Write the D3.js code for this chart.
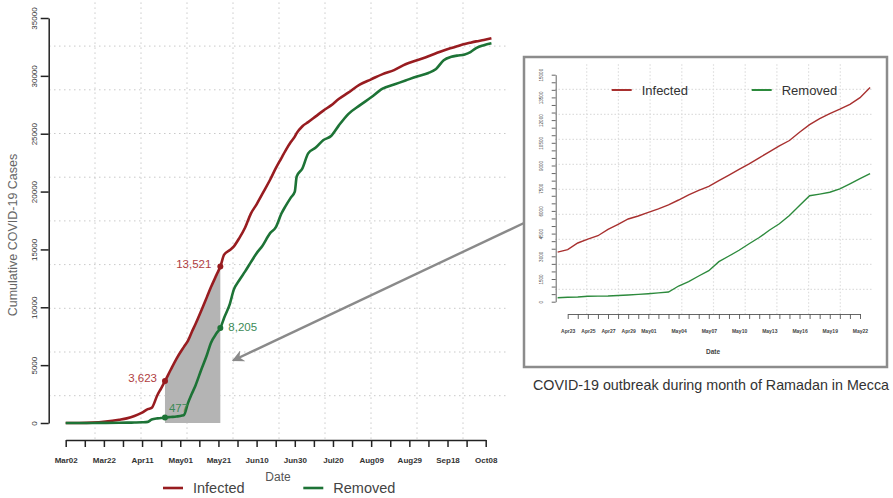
<!DOCTYPE html>
<html>
<head>
<meta charset="utf-8">
<script src="https://cdn.jsdelivr.net/npm/d3@7"></script>
<style>
  body { margin: 0; background: #fff; }
  svg { display: block; font-family: "Liberation Sans", Arial, sans-serif; }
</style>
</head>
<body>
<div id="chart"></div>
<script>
// Main chart: cumulative cases
const mainDates = ["2020-03-02","2020-03-09","2020-03-16","2020-03-23","2020-03-30","2020-04-03","2020-04-07","2020-04-11",
  "2020-04-14","2020-04-16","2020-04-19","2020-04-21","2020-04-23","2020-04-26","2020-04-29","2020-05-02","2020-05-03",
  "2020-05-05","2020-05-07","2020-05-09","2020-05-12","2020-05-15","2020-05-17","2020-05-20","2020-05-22","2020-05-24",
  "2020-05-27","2020-05-29","2020-06-01","2020-06-04","2020-06-07","2020-06-10","2020-06-13","2020-06-17","2020-06-20",
  "2020-06-23","2020-06-25","2020-06-28","2020-06-30","2020-07-01","2020-07-04","2020-07-07","2020-07-11","2020-07-15",
  "2020-07-19","2020-07-23","2020-07-28","2020-08-03","2020-08-09","2020-08-15","2020-08-21","2020-08-27","2020-09-02",
  "2020-09-08","2020-09-12","2020-09-16","2020-09-20","2020-09-23","2020-09-27","2020-09-30","2020-10-03","2020-10-07",
  "2020-10-11"];
const infected = [0,5,30,120,280,400,600,900,1200,1300,2400,3000,3623,4600,5550,6350,6600,7100,7850,8550,9700,10900,
  11700,12800,13521,14550,14950,15250,16000,16900,18100,18900,19800,21000,22000,22900,23500,24300,24750,25050,25650,
  26000,26500,27000,27450,28000,28550,29250,29700,30150,30500,31000,31350,31700,31950,32200,32400,32550,32750,32870,
  32980,33100,33250];
const removed = [0,0,5,10,20,30,40,60,100,300,400,430,477,520,560,640,700,1700,2500,3250,4600,5900,6900,7750,8205,
  9100,10300,11500,12360,13100,13900,14670,15300,16390,16900,18100,18700,19500,20000,21300,22000,23300,23800,24450,
  24800,25700,26700,27450,28150,28900,29250,29600,29950,30250,30600,31350,31650,31750,31850,32050,32400,32650,32810];

// Ramadan window and the marked values
const ramadan = ["2020-04-23", "2020-05-22"];
const markInfected = [3623, 13521];
const markRemoved = [477, 8205];

// Axis ticks
const yTicks = [0, 5000, 10000, 15000, 20000, 25000, 30000, 35000];
const xTickStart = "2020-03-02", xTickEnd = "2020-10-08";

// Inset chart (Ramadan zoom)
const insetDates = ["2020-04-22","2020-04-23","2020-04-24","2020-04-25","2020-04-26","2020-04-27","2020-04-28","2020-04-29",
  "2020-04-30","2020-05-01","2020-05-02","2020-05-03","2020-05-04","2020-05-05","2020-05-06","2020-05-07","2020-05-08",
  "2020-05-09","2020-05-10","2020-05-11","2020-05-12","2020-05-13","2020-05-14","2020-05-15","2020-05-16","2020-05-17",
  "2020-05-18","2020-05-19","2020-05-20","2020-05-21","2020-05-22","2020-05-23"];
const insetInfected = [3280,3440,3880,4140,4360,4780,5115,5465,5663,5900,6130,6400,6720,7060,7360,7620,8000,8370,8750,
  9110,9510,9900,10300,10650,11200,11700,12100,12430,12720,13045,13481,14150];
const insetRemoved = [264,290,315,357,367,377,410,443,486,529,585,641,1037,1322,1698,2049,2644,3020,3400,3830,4240,
  4720,5150,5700,6350,7000,7110,7230,7450,7790,8130,8460];
const insetLabelDates = ["Apr23","Apr25","Apr27","Apr29","May01","May04","May07","May10","May13","May16","May19","May22"];
const insetYTicks = d3.range(0, 15001, 500);
const insetCaption = "COVID-19 outbreak during month of Ramadan in Mecca";

const RED = "#981c20", GREEN = "#1d7336";
const parse = d3.utcParse("%Y-%m-%d");
const fmt = d3.utcFormat("%b%d");

const svg = d3.select("#chart").append("svg").attr("width", 893).attr("height", 498);

// ---------- main chart ----------
const x = d3.scaleUtc().domain([parse(xTickStart), parse(xTickEnd)]).range([65.7, 485.7]);
const y = d3.scaleLinear().domain([0, 35000]).range([423, 18]);
const plot = { left: 49, right: 509, top: 2.4, bottom: 439.4 };

// R-style dotted grid (10 equal divisions of the plot region)
const grid = svg.append("g").attr("stroke", "#c9c9c9").attr("stroke-dasharray", "1.5,3.5").attr("stroke-width", 1);
d3.range(1, 10).forEach(i => {
  const gx = plot.left + (plot.right - plot.left) * i / 10;
  const gy = plot.top + (plot.bottom - plot.top) * i / 10;
  grid.append("line").attr("x1", gx).attr("x2", gx).attr("y1", plot.top).attr("y2", plot.bottom);
  grid.append("line").attr("x1", plot.left).attr("x2", plot.right).attr("y1", gy).attr("y2", gy);
});

// y axis
const yAxis = svg.append("g").attr("transform", "translate(48.7,0)")
  .call(d3.axisLeft(y).tickValues(yTicks).tickSize(8).tickSizeOuter(0).tickFormat(d3.format("d")));
yAxis.select(".domain").attr("stroke", "#222").attr("stroke-width", 1.5);
yAxis.selectAll(".tick line").attr("stroke", "#222").attr("stroke-width", 1.5);
yAxis.selectAll("text").attr("transform", "rotate(-90)").attr("x", 0).attr("y", -15).attr("dy", "0.35em")
  .attr("text-anchor", "middle").attr("font-size", 8).attr("fill", "#333");

// x axis: ticks every 10 days, labels every 20
const xTicks = d3.utcDay.range(parse(xTickStart), d3.utcDay.offset(parse(xTickEnd), 1), 1)
  .filter((d, i) => i % 10 === 0);
const xAxis = svg.append("g").attr("transform", "translate(0,440)")
  .call(d3.axisBottom(x).tickValues(xTicks).tickSize(7).tickSizeOuter(0)
    .tickFormat((d, i) => i % 2 === 0 ? fmt(d) : ""));
xAxis.select(".domain").attr("stroke", "#222").attr("stroke-width", 1.5);
xAxis.selectAll(".tick line").attr("stroke", "#222").attr("stroke-width", 1.5);
xAxis.selectAll("text").attr("y", 17).attr("font-size", 8).attr("font-weight", "bold").attr("fill", "#333");

svg.append("text").attr("x", 278).attr("y", 481).attr("text-anchor", "middle")
  .attr("font-size", 12).attr("fill", "#555").text("Date");
svg.append("text").attr("transform", "translate(17,235) rotate(-90)").attr("text-anchor", "middle")
  .attr("font-size", 12.5).attr("fill", "#666").text("Cumulative COVID-19 Cases");

// shaded Ramadan area under the infected curve
const rs = parse(ramadan[0]), re = parse(ramadan[1]);
const shade = mainDates.map((d, i) => ({ d: parse(d), v: infected[i] })).filter(p => p.d >= rs && p.d <= re);
svg.append("path").datum(shade).attr("fill", "#b4b4b4")
  .attr("d", d3.area().x(p => x(p.d)).y0(y(0)).y1(p => y(p.v)));

// lines
const line = d3.line().x(p => x(p.d)).y(p => y(p.v)).curve(d3.curveMonotoneX);
[[infected, RED], [removed, GREEN]].forEach(([vals, col]) => {
  svg.append("path").datum(mainDates.map((d, i) => ({ d: parse(d), v: vals[i] })))
    .attr("fill", "none").attr("stroke", col).attr("stroke-width", 2.6).attr("d", line);
});

// marked points and labels
const marks = [
  { d: rs, v: markInfected[0], c: RED, t: "#b0403f", dx: -8, dy: -3, anchor: "end" },
  { d: re, v: markInfected[1], c: RED, t: "#b0403f", dx: -9, dy: -3, anchor: "end" },
  { d: rs, v: markRemoved[0], c: GREEN, t: "#3c8a57", dx: 4, dy: -10, anchor: "start" },
  { d: re, v: markRemoved[1], c: GREEN, t: "#3c8a57", dx: 8, dy: -1, anchor: "start" }
];
marks.forEach(m => {
  svg.append("circle").attr("cx", x(m.d)).attr("cy", y(m.v)).attr("r", 3).attr("fill", m.c);
  svg.append("text").attr("x", x(m.d) + m.dx).attr("y", y(m.v) + m.dy).attr("dy", "0.35em")
    .attr("text-anchor", m.anchor).attr("font-size", 11.5).attr("fill", m.t).text(d3.format(",")(m.v));
});

// legend
[["Infected", RED, 163], ["Removed", GREEN, 303.3]].forEach(([name, col, lx]) => {
  svg.append("line").attr("x1", lx).attr("x2", lx + 20).attr("y1", 488).attr("y2", 488)
    .attr("stroke", col).attr("stroke-width", 2.6);
  svg.append("text").attr("x", lx + 30).attr("y", 488).attr("dy", "0.35em")
    .attr("font-size", 14.5).attr("fill", "#444").text(name);
});

// arrow from inset to shaded area
svg.append("defs").append("marker").attr("id", "arrow").attr("viewBox", "0 0 10 10")
  .attr("refX", 9).attr("refY", 5).attr("markerWidth", 5).attr("markerHeight", 5)
  .attr("markerUnits", "strokeWidth").attr("orient", "auto")
  .append("path").attr("d", "M0,0 L10,5 L0,10 L3,5 Z").attr("fill", "#8a8a8a");
svg.append("line").attr("x1", 524).attr("y1", 223).attr("x2", 233).attr("y2", 360.5)
  .attr("stroke", "#8a8a8a").attr("stroke-width", 2.4).attr("marker-end", "url(#arrow)");

// ---------- inset ----------
const ix = d3.scaleUtc().domain([parse("2020-04-23"), parse("2020-05-22")]).range([567.7, 860]);
const iy = d3.scaleLinear().domain([0, 15000]).range([301.7, 74.7]);
const iplot = { left: 555, right: 872, top: 64.3, bottom: 314.3 };

const ig = svg.append("g").attr("stroke", "#dedede").attr("stroke-dasharray", "1.5,2").attr("stroke-width", 1.2);
d3.range(1, 10).forEach(i => {
  const gx = iplot.left + (iplot.right - iplot.left) * i / 10;
  const gy = iplot.top + (iplot.bottom - iplot.top) * i / 10;
  ig.append("line").attr("x1", gx).attr("x2", gx).attr("y1", iplot.top).attr("y2", iplot.bottom);
  ig.append("line").attr("x1", iplot.left).attr("x2", iplot.right).attr("y1", gy).attr("y2", gy);
});

const iyAxis = svg.append("g").attr("transform", "translate(555.7,0)")
  .call(d3.axisLeft(iy).tickValues(insetYTicks).tickSize(4).tickSizeOuter(0)
    .tickFormat(d => d % 1500 === 0 ? String(d) : ""));
iyAxis.selectAll(".domain, .tick line").attr("stroke", "#555").attr("stroke-width", 0.9);
iyAxis.selectAll("text").attr("transform", "rotate(-90)").attr("x", 0).attr("y", -14).attr("dy", "0.35em")
  .attr("text-anchor", "middle").attr("font-size", 4.6).attr("fill", "#444");

const ixTicks = d3.utcDay.range(parse("2020-04-23"), parse("2020-05-23"));
const ixAxis = svg.append("g").attr("transform", "translate(0,314)")
  .call(d3.axisBottom(ix).tickValues(ixTicks).tickSize(5).tickSizeOuter(0)
    .tickFormat(d => insetLabelDates.includes(fmt(d)) ? fmt(d) : ""));
ixAxis.selectAll(".domain, .tick line").attr("stroke", "#555").attr("stroke-width", 0.9);
ixAxis.selectAll("text").attr("y", 15).attr("font-size", 5).attr("font-weight", "bold").attr("fill", "#444");
svg.append("text").attr("x", 713).attr("y", 354).attr("text-anchor", "middle")
  .attr("font-size", 6.5).attr("font-weight", "bold").attr("fill", "#444").text("Date");

const iline = d3.line().x(p => ix(p.d)).y(p => iy(p.v));
[[insetInfected, "#a8302f"], [insetRemoved, "#2c8a3c"]].forEach(([vals, col]) => {
  svg.append("path").datum(insetDates.map((d, i) => ({ d: parse(d), v: vals[i] })))
    .attr("fill", "none").attr("stroke", col).attr("stroke-width", 1.4).attr("d", iline);
});

[["Infected", "#a8302f", 611.7], ["Removed", "#2c8a3c", 751.7]].forEach(([name, col, lx]) => {
  svg.append("line").attr("x1", lx).attr("x2", lx + 20).attr("y1", 90).attr("y2", 90)
    .attr("stroke", col).attr("stroke-width", 2);
  svg.append("text").attr("x", lx + 30).attr("y", 90).attr("dy", "0.35em")
    .attr("font-size", 13).attr("fill", "#333").text(name);
});

svg.append("rect").attr("x", 524).attr("y", 57).attr("width", 363).attr("height", 310)
  .attr("fill", "none").attr("stroke", "#8c8c8c").attr("stroke-width", 2.5);

svg.append("text").attr("x", 533).attr("y", 390).attr("font-size", 14.3).attr("fill", "#333").text(insetCaption);
</script>
</body>
</html>
